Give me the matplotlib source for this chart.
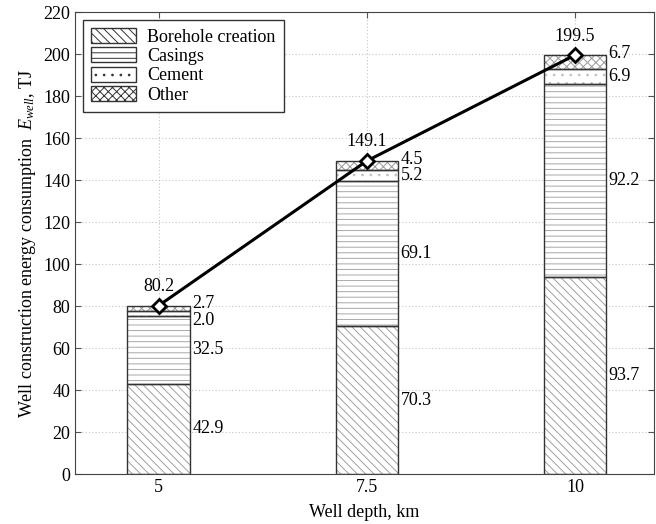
import matplotlib
matplotlib.use('Agg')
import matplotlib.pyplot as plt
import numpy as np

plt.rcParams['font.family'] = ['Liberation Serif', 'DejaVu Serif']
plt.rcParams['mathtext.fontset'] = 'custom'
plt.rcParams['mathtext.rm'] = 'Liberation Serif'
plt.rcParams['mathtext.it'] = 'Liberation Serif:italic'
plt.rcParams['hatch.linewidth'] = 0.7

depths = ['5', '7.5', '10']
borehole = [42.9, 70.3, 93.7]
casings = [32.5, 69.1, 92.2]
cement = [2.0, 5.2, 6.9]
other = [2.7, 4.5, 6.7]
totals = [80.2, 149.1, 199.5]

fig, ax = plt.subplots(figsize=(6.56, 5.24), dpi=100)
fig.subplots_adjust(left=0.1143, right=0.997, top=0.977, bottom=0.0954)

fs = 13
x = np.arange(len(depths))
w = 0.3
parts = [(borehole, 'Borehole creation', '\\\\\\\\', '#a0a0a0'),
         (casings, 'Casings', '---', '#a8a8a8'),
         (cement, 'Cement', '..', '#c0c0c0'),
         (other, 'Other', 'xxxx', '#9a9a9a')]
bottom = np.zeros(len(depths))
handles = []
for vals, name, hatch, hc in parts:
    # hatch in light grey, outline in dark grey
    ax.bar(x, vals, w, bottom=bottom, color='white', edgecolor=hc,
           linewidth=0, hatch=hatch, zorder=2)
    ax.bar(x, vals, w, bottom=bottom, fill=False, edgecolor='#333333',
           linewidth=1.0, zorder=2.1)
    handles.append(plt.Rectangle((0, 0), 1, 1, facecolor='white', edgecolor='#333333',
                                 hatch=hatch, linewidth=1.0, label=name))
    bottom += np.array(vals)

# value labels
lx = x + w / 2 + 0.012
for i in range(len(depths)):
    b, c, ce, o, t = borehole[i], casings[i], cement[i], other[i], totals[i]
    ax.text(lx[i], b / 2, f'{b:.1f}', fontsize=fs, va='center')
    ax.text(lx[i], b + c / 2, f'{c:.1f}', fontsize=fs, va='center')
    ax.text(lx[i], min(b + c + ce / 2, t - 7), f'{ce:.1f}', fontsize=fs, va='center')
    ax.text(lx[i], t + 0.8, f'{o:.1f}', fontsize=fs, va='center')
    ax.text(x[i], t + 5, f'{t:.1f}', fontsize=fs, ha='center', va='bottom')

ax.plot(x, totals, color='black', linewidth=2.2, marker='D', markersize=7.5,
        markerfacecolor='white', markeredgecolor='black', markeredgewidth=2, zorder=3)

ax.set_xlim(-0.402, 2.38)
ax.set_ylim(0, 220)
ax.set_yticks(range(0, 221, 20))
ax.set_xticks(x)
ax.set_xticklabels(depths)
ax.tick_params(labelsize=fs, direction='in', top=True, right=True, length=4,
               width=0.8, color='#555555')
ax.grid(True, linestyle=(0, (1, 2)), color='#c4c4c4', linewidth=0.8)
ax.set_axisbelow(True)
for s in ax.spines.values():
    s.set_color('#444444')
ax.set_xlabel('Well depth, km', fontsize=fs, labelpad=6)
ax.set_ylabel(r'Well construction energy consumption  $E_{well}$, TJ', fontsize=fs)

ax.legend(handles=handles, loc='upper left', fontsize=fs, frameon=True, fancybox=False,
          edgecolor='#333333', framealpha=1, handlelength=2.5, handleheight=0.9,
          handletextpad=0.6, borderpad=0.45, labelspacing=0.08, borderaxespad=0.45)

fig.savefig('out.png', dpi=100)
